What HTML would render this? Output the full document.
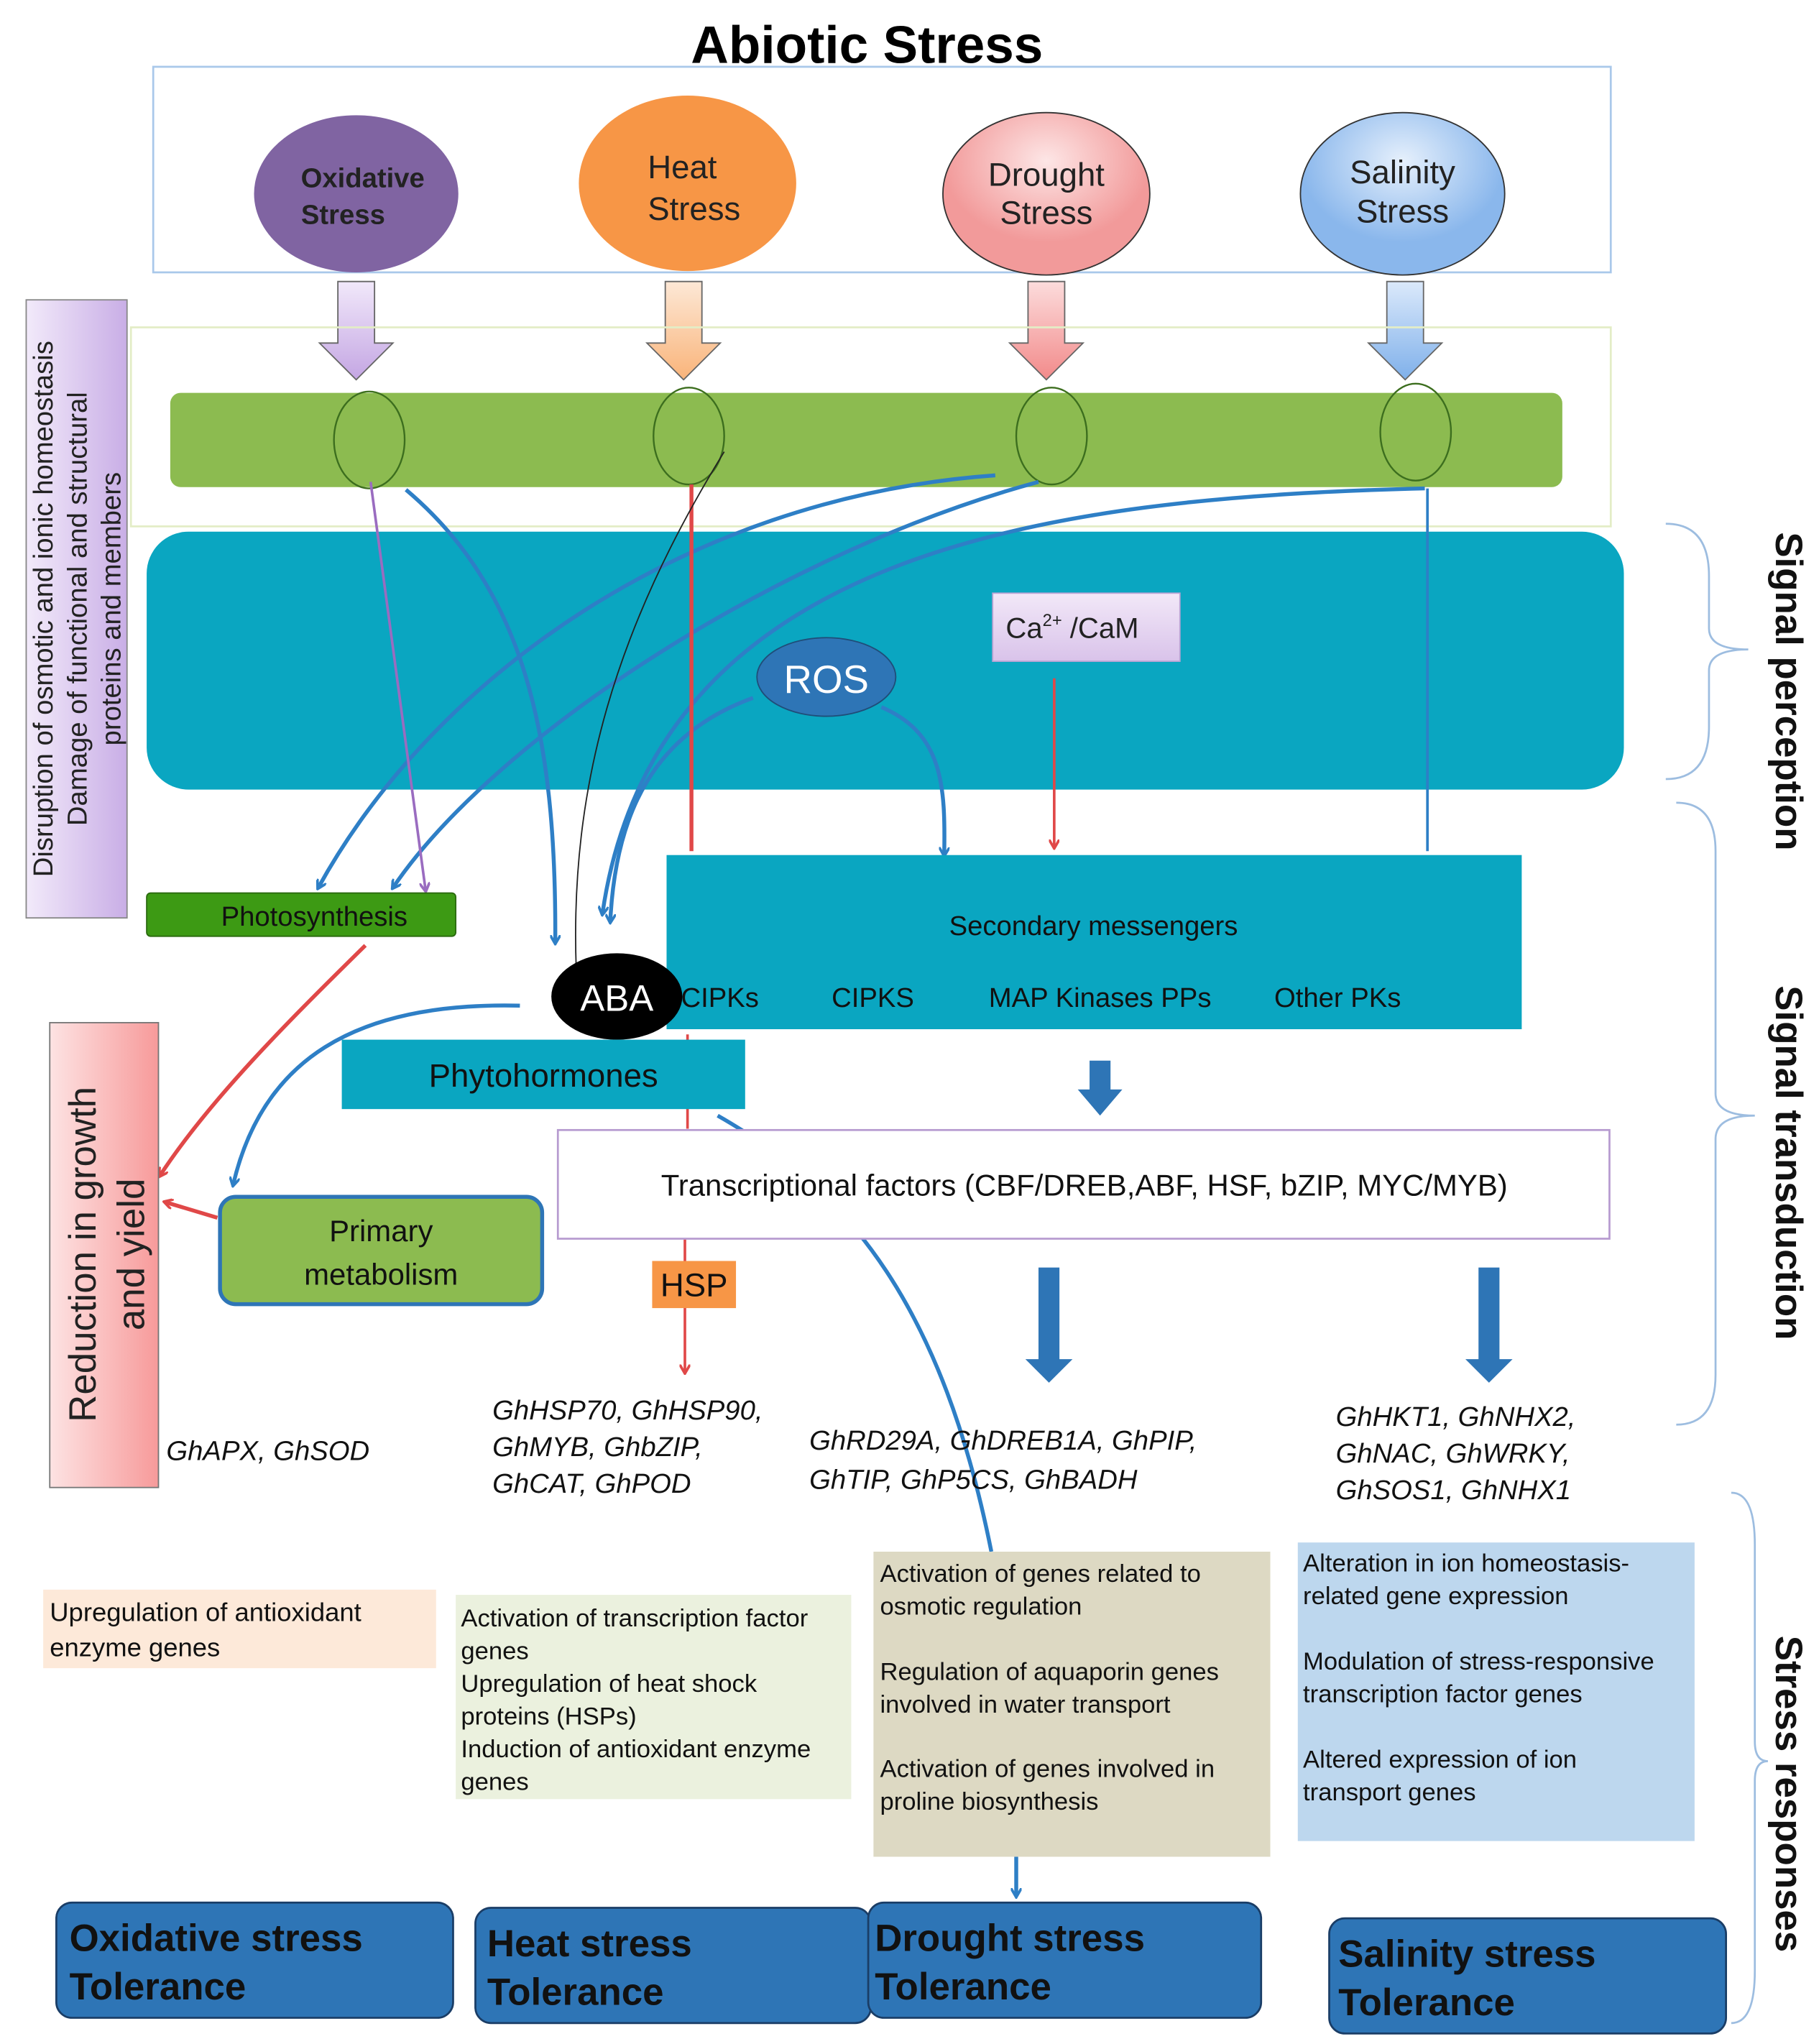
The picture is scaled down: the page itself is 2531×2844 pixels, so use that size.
<!DOCTYPE html>
<html><head><meta charset="utf-8"><style>
html,body{margin:0;padding:0;background:#fff}
svg{display:block}
text{font-family:"Liberation Sans",Arial,sans-serif}
</style></head><body>
<svg width="2531" height="2844" viewBox="0 0 1389 1561" preserveAspectRatio="none" xmlns="http://www.w3.org/2000/svg">
<defs>
<linearGradient id="gPur" x1="0" x2="1"><stop offset="0" stop-color="#f2eafa"/><stop offset="1" stop-color="#c9aee6"/></linearGradient>
<linearGradient id="gPink" x1="0" x2="1"><stop offset="0" stop-color="#fde3e3"/><stop offset="1" stop-color="#f79a9a"/></linearGradient>
<radialGradient id="gDr" cx="0.5" cy="0.3"><stop offset="0" stop-color="#fde6e6"/><stop offset="1" stop-color="#f29a9a"/></radialGradient>
<radialGradient id="gSa" cx="0.5" cy="0.3"><stop offset="0" stop-color="#e6f0fc"/><stop offset="1" stop-color="#8ab7ec"/></radialGradient>
<linearGradient id="aPur" x1="0" y1="0" x2="0" y2="1"><stop offset="0" stop-color="#f1e8fa"/><stop offset="1" stop-color="#c4a6e3"/></linearGradient>
<linearGradient id="aOr" x1="0" y1="0" x2="0" y2="1"><stop offset="0" stop-color="#fde8d6"/><stop offset="1" stop-color="#f9b47a"/></linearGradient>
<linearGradient id="aPk" x1="0" y1="0" x2="0" y2="1"><stop offset="0" stop-color="#fcdcdc"/><stop offset="1" stop-color="#f28a8a"/></linearGradient>
<linearGradient id="aBl" x1="0" y1="0" x2="0" y2="1"><stop offset="0" stop-color="#dbe9fb"/><stop offset="1" stop-color="#7fb0ea"/></linearGradient>
<linearGradient id="gCa" x1="0" y1="0" x2="0" y2="1"><stop offset="0" stop-color="#f2e8f8"/><stop offset="1" stop-color="#d9c3ea"/></linearGradient>
<marker id="mb" markerWidth="8" markerHeight="8" refX="6" refY="4" orient="auto" markerUnits="userSpaceOnUse"><path d="M0,0 L7,4 L0,8" fill="none" stroke="#2e7fc6" stroke-width="2"/></marker>
<marker id="mr" markerWidth="8" markerHeight="8" refX="6" refY="4" orient="auto" markerUnits="userSpaceOnUse"><path d="M0,0 L7,4 L0,8" fill="none" stroke="#e04848" stroke-width="2"/></marker>
<marker id="mp" markerWidth="8" markerHeight="8" refX="6" refY="4" orient="auto" markerUnits="userSpaceOnUse"><path d="M0,0 L7,4 L0,8" fill="none" stroke="#9a6cc0" stroke-width="2"/></marker>
</defs>

<text x="662" y="48" font-size="40" font-weight="bold" text-anchor="middle">Abiotic  Stress</text>
<rect x="117" y="51" width="1113" height="157" fill="none" stroke="#a9c8ea" stroke-width="1.5"/>

<ellipse cx="272" cy="148" rx="78" ry="60" fill="#8064a2"/>
<text x="277" y="143" font-size="21" font-weight="bold" text-anchor="middle" fill="#222">Oxidative</text>
<text x="262" y="171" font-size="21" font-weight="bold" text-anchor="middle" fill="#222">Stress</text>
<ellipse cx="525" cy="140" rx="83" ry="67" fill="#f79646"/>
<text x="521" y="136" font-size="25" text-anchor="middle" fill="#222">Heat</text>
<text x="530" y="168" font-size="25" text-anchor="middle" fill="#222">Stress</text>
<ellipse cx="799" cy="148" rx="79" ry="62" fill="url(#gDr)" stroke="#333" stroke-width="1"/>
<text x="799" y="142" font-size="25" text-anchor="middle" fill="#222">Drought</text>
<text x="799" y="171" font-size="25" text-anchor="middle" fill="#222">Stress</text>
<ellipse cx="1071" cy="148" rx="78" ry="62" fill="url(#gSa)" stroke="#333" stroke-width="1"/>
<text x="1071" y="140" font-size="25" text-anchor="middle" fill="#222">Salinity</text>
<text x="1071" y="170" font-size="25" text-anchor="middle" fill="#222">Stress</text>

<g stroke="#666" stroke-width="1">
<path d="M258,215 H286 V262 H300 L272,290 L244,262 H258 Z" fill="url(#aPur)"/>
<path d="M508,215 H536 V262 H550 L522,290 L494,262 H508 Z" fill="url(#aOr)"/>
<path d="M785,215 H813 V262 H827 L799,290 L771,262 H785 Z" fill="url(#aPk)"/>
<path d="M1059,215 H1087 V262 H1101 L1073,290 L1045,262 H1059 Z" fill="url(#aBl)"/>
</g>

<rect x="100" y="250" width="1130" height="152" fill="none" stroke="#e3edc6" stroke-width="1.5"/>
<rect x="130" y="300" width="1063" height="72" rx="8" fill="#8cbb50"/>
<g fill="none" stroke="#3c6e1e" stroke-width="1.3">
<ellipse cx="282" cy="336" rx="27" ry="37"/>
<ellipse cx="526" cy="333" rx="27" ry="37"/>
<ellipse cx="803" cy="333" rx="27" ry="37"/>
<ellipse cx="1081" cy="330" rx="27" ry="37"/>
</g>

<rect x="112" y="406" width="1128" height="197" rx="32" fill="#0aa6c1"/>
<rect x="758" y="453" width="143" height="52" fill="url(#gCa)" stroke="#bba4d4" stroke-width="1"/>
<text x="768" y="487" font-size="22" fill="#222">Ca<tspan font-size="13" dy="-9">2+</tspan><tspan dy="9"> /CaM</tspan></text>
<ellipse cx="631" cy="517" rx="53" ry="30" fill="#2e75b6" stroke="#1f4e79" stroke-width="1"/>
<text x="631" y="529" font-size="30" text-anchor="middle" fill="#fff">ROS</text>

<rect x="20" y="229" width="77" height="472" fill="url(#gPur)" stroke="#888" stroke-width="1"/>
<g transform="rotate(-90)" font-size="21" fill="#222" text-anchor="middle">
<text x="-465" y="40">Disruption of osmotic and ionic homeostasis</text>
<text x="-465" y="66">Damage of functional and structural</text>
<text x="-465" y="92">proteins and members</text>
</g>

<g fill="none" stroke-width="3">
<path d="M310,374 C400,450 425,560 424,720" stroke="#2e7fc6" marker-end="url(#mb)"/>
<path d="M760,363 C520,380 330,520 243,678" stroke="#2e7fc6" marker-end="url(#mb)"/>
<path d="M793,368 C600,420 380,560 300,678" stroke="#2e7fc6" marker-end="url(#mb)"/>
<path d="M1088,373 C800,380 500,420 460,698" stroke="#2e7fc6" marker-end="url(#mb)"/>
<path d="M1090,373 V650" stroke="#2e7fc6" stroke-width="2"/>
<path d="M575,533 C500,560 470,620 466,704" stroke="#2e7fc6" marker-end="url(#mb)"/>
<path d="M673,540 C720,560 722,600 721,653" stroke="#2e7fc6" marker-end="url(#mb)"/>
<path d="M397,768 C270,765 200,810 178,905" stroke="#2e7fc6" marker-end="url(#mb)"/>
<path d="M548,852 C650,910 720,1000 757,1185" stroke="#2e7fc6"/>
<path d="M776,1418 V1448" stroke="#2e7fc6" marker-end="url(#mb)"/>
<path d="M283,368 L325,680" stroke="#9a6cc0" stroke-width="2" marker-end="url(#mp)"/>
<path d="M528,370 V650" stroke="#e04848"/>
<path d="M525,790 V862 M523,946 V963 M523,998 V1048" stroke="#e04848" stroke-width="2" marker-end="url(#mr)"/>
<path d="M805,518 V647" stroke="#e04848" stroke-width="2" marker-end="url(#mr)"/>
<path d="M279,722 C220,780 160,840 122,898" stroke="#e04848" marker-end="url(#mr)"/>
<path d="M166,930 L126,918" stroke="#e04848" marker-end="url(#mr)"/>
<path d="M553,345 C470,480 435,600 440,740" stroke="#222" stroke-width="1"/>
</g>

<rect x="112" y="682" width="236" height="33" rx="3" fill="#3d9a14" stroke="#2a6a0e" stroke-width="1"/>
<text x="240" y="707" font-size="21" text-anchor="middle" fill="#111">Photosynthesis</text>

<rect x="509" y="653" width="653" height="133" fill="#0aa6c1"/>
<text x="835" y="714" font-size="21" text-anchor="middle" fill="#111">Secondary messengers</text>
<text x="520" y="769" font-size="21" fill="#111">CIPKs</text>
<text x="635" y="769" font-size="21" fill="#111">CIPKS</text>
<text x="755" y="769" font-size="21" fill="#111">MAP Kinases PPs</text>
<text x="973" y="769" font-size="21" fill="#111">Other PKs</text>

<ellipse cx="471" cy="761" rx="50" ry="33" fill="#000"/>
<text x="471" y="772" font-size="28" text-anchor="middle" fill="#fff">ABA</text>

<rect x="261" y="794" width="308" height="53" fill="#0aa6c1"/>
<text x="415" y="830" font-size="25" text-anchor="middle" fill="#111">Phytohormones</text>

<path d="M832,810 H848 V832 H857 L840,852 L823,832 H832 Z" fill="#2e75b6"/>
<rect x="426" y="863" width="803" height="83" fill="#fff" stroke="#b79bd0" stroke-width="1.5"/>
<text x="828" y="913" font-size="23" text-anchor="middle" fill="#111">Transcriptional factors (CBF/DREB,ABF, HSF, bZIP, MYC/MYB)</text>

<rect x="38" y="781" width="83" height="355" fill="url(#gPink)" stroke="#777" stroke-width="1"/>
<g transform="rotate(-90)" font-size="29" fill="#222" text-anchor="middle">
<text x="-958" y="73">Reduction in growth</text>
<text x="-958" y="110">and yield</text>
</g>

<rect x="168" y="914" width="246" height="82" rx="12" fill="#8cbb50" stroke="#2e75b6" stroke-width="3"/>
<text x="291" y="948" font-size="23" text-anchor="middle" fill="#111">Primary</text>
<text x="291" y="981" font-size="23" text-anchor="middle" fill="#111">metabolism</text>

<rect x="498" y="963" width="64" height="36" fill="#f79646"/>
<text x="530" y="990" font-size="25" text-anchor="middle" fill="#111">HSP</text>

<path d="M793,968 H809 V1038 H819 L801,1056 L783,1038 H793 Z" fill="#2e75b6"/>
<path d="M1129,968 H1145 V1038 H1155 L1137,1056 L1119,1038 H1129 Z" fill="#2e75b6"/>

<g font-size="21" font-style="italic" fill="#111">
<text x="127" y="1115">GhAPX, GhSOD</text>
<text x="376" y="1084">GhHSP70, GhHSP90,</text>
<text x="376" y="1112">GhMYB, GhbZIP,</text>
<text x="376" y="1140">GhCAT, GhPOD</text>
<text x="618" y="1107">GhRD29A, GhDREB1A, GhPIP,</text>
<text x="618" y="1137">GhTIP, GhP5CS, GhBADH</text>
<text x="1020" y="1089">GhHKT1, GhNHX2,</text>
<text x="1020" y="1117">GhNAC, GhWRKY,</text>
<text x="1020" y="1145">GhSOS1, GhNHX1</text>
</g>

<rect x="33" y="1214" width="300" height="60" fill="#fde9d9"/>
<text font-size="20" fill="#111"><tspan x="38" y="1238">Upregulation of antioxidant</tspan><tspan x="38" y="1265">enzyme genes</tspan></text>
<rect x="348" y="1218" width="302" height="156" fill="#ebf1de"/>
<text font-size="19" fill="#111"><tspan x="352" y="1242">Activation of transcription factor</tspan><tspan x="352" y="1267">genes</tspan><tspan x="352" y="1292">Upregulation of heat shock</tspan><tspan x="352" y="1317">proteins (HSPs)</tspan><tspan x="352" y="1342">Induction of antioxidant enzyme</tspan><tspan x="352" y="1367">genes</tspan></text>
<rect x="667" y="1185" width="303" height="233" fill="#ddd9c3"/>
<text font-size="19" fill="#111"><tspan x="672" y="1208">Activation of genes related to</tspan><tspan x="672" y="1233">osmotic regulation</tspan><tspan x="672" y="1283">Regulation of aquaporin genes</tspan><tspan x="672" y="1308">involved in water transport</tspan><tspan x="672" y="1357">Activation of genes involved in</tspan><tspan x="672" y="1382">proline biosynthesis</tspan></text>
<rect x="991" y="1178" width="303" height="228" fill="#bdd7ee"/>
<text font-size="19" fill="#111"><tspan x="995" y="1200">Alteration in ion homeostasis-</tspan><tspan x="995" y="1225">related gene expression</tspan><tspan x="995" y="1275">Modulation of stress-responsive</tspan><tspan x="995" y="1300">transcription factor genes</tspan><tspan x="995" y="1350">Altered expression of ion</tspan><tspan x="995" y="1375">transport genes</tspan></text>

<g fill="#2e75b6" stroke="#1a3d66" stroke-width="1.5">
<rect x="43" y="1453" width="303" height="88" rx="12"/>
<rect x="363" y="1457" width="302" height="88" rx="12"/>
<rect x="663" y="1453" width="300" height="88" rx="12"/>
<rect x="1015" y="1465" width="303" height="88" rx="12"/>
</g>
<g font-size="29" font-weight="bold" fill="#111">
<text x="53" y="1490">Oxidative stress</text><text x="53" y="1527">Tolerance</text>
<text x="372" y="1494">Heat stress</text><text x="372" y="1531">Tolerance</text>
<text x="668" y="1490">Drought stress</text><text x="668" y="1527">Tolerance</text>
<text x="1022" y="1502">Salinity stress</text><text x="1022" y="1539">Tolerance</text>
</g>

<g fill="none" stroke="#9dbde0" stroke-width="1.5">
<path d="M1272,400 Q1305,400 1305,440 V480 Q1305,496 1335,496 Q1305,496 1305,512 V555 Q1305,595 1272,595"/>
<path d="M1280,613 Q1310,613 1310,650 V835 Q1310,852 1340,852 Q1310,852 1310,870 V1050 Q1310,1088 1280,1088"/>
<path d="M1322,1140 Q1340,1140 1340,1180 V1330 Q1340,1345 1350,1345 Q1340,1345 1340,1360 V1505 Q1340,1545 1322,1545"/>
</g>
<g transform="rotate(90)" font-size="29" font-weight="bold" fill="#111" text-anchor="middle">
<text x="528" y="-1356">Signal perception</text>
<text x="888" y="-1356">Signal transduction</text>
<text x="1370" y="-1356">Stress responses</text>
</g>
</svg>
</body></html>
